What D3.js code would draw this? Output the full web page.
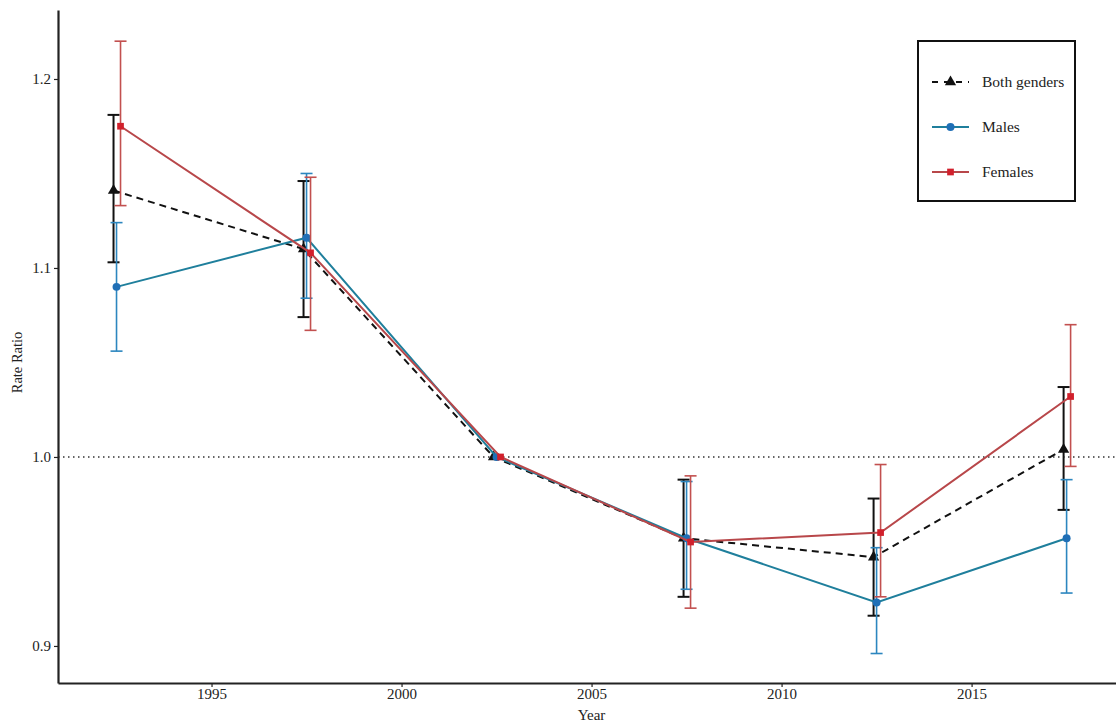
<!DOCTYPE html>
<html>
<head>
<meta charset="utf-8">
<script src="https://cdn.jsdelivr.net/npm/d3@7"></script>
<style>
  body { margin: 0; background: #fff; }
  svg { display: block; }
  text { font-family: "Liberation Serif", "DejaVu Serif", serif; fill: #222; }
</style>
</head>
<body>
<svg id="chart" width="1116" height="723"></svg>
<script>
// Period midpoints (years)
const years = [1992.5, 1997.5, 2002.5, 2007.5, 2012.5, 2017.5];

// Rate ratios relative to the 2000-2004 reference period
const bothRR   = [1.141, 1.110, 1.000, 0.957, 0.947, 1.004];
const bothLo   = [1.103, 1.074, 1.000, 0.926, 0.916, 0.972];
const bothHi   = [1.181, 1.146, 1.000, 0.988, 0.978, 1.037];

const maleRR   = [1.090, 1.116, 1.000, 0.957, 0.923, 0.957];
const maleLo   = [1.056, 1.084, 1.000, 0.930, 0.896, 0.928];
const maleHi   = [1.124, 1.150, 1.000, 0.987, 0.952, 0.988];

const femRR    = [1.175, 1.108, 1.000, 0.955, 0.960, 1.032];
const femLo    = [1.133, 1.067, 1.000, 0.920, 0.926, 0.995];
const femHi    = [1.220, 1.148, 1.000, 0.990, 0.996, 1.070];

const xTicks = [1995, 2000, 2005, 2010, 2015];
const yTicks = [0.9, 1.0, 1.1, 1.2];
const seriesNames = ["Both genders", "Males", "Females"];

const svg = d3.select("#chart");
const W = 1116, H = 723;
const margin = { left: 58, right: 0, top: 10, bottom: 40 };

const x = d3.scaleLinear().domain([1990.96, 2018.8]).range([margin.left, W - margin.right]);
const y = d3.scaleLinear().domain([0.8804, 1.2365]).range([H - margin.bottom, margin.top]);

const series = [
  { name: seriesNames[0], rr: bothRR, lo: bothLo, hi: bothHi, line: "#111", bar: "#111", mark: "#111",
    dash: "7,5", shape: d3.symbolTriangle, size: 55, dx: -3, barW: 2, cap: 12 },
  { name: seriesNames[1], rr: maleRR, lo: maleLo, hi: maleHi, line: "#1f7f9c", bar: "#2c86bf", mark: "#1f6fb6",
    dash: null, shape: d3.symbolCircle, size: 50, dx: 0, barW: 1.6, cap: 12 },
  { name: seriesNames[2], rr: femRR, lo: femLo, hi: femHi, line: "#b8474a", bar: "#c2504f", mark: "#d1202c",
    dash: null, shape: d3.symbolSquare, size: 45, dx: 4, barW: 1.6, cap: 12 }
];

// Reference line at RR = 1
svg.append("line")
  .attr("x1", margin.left).attr("x2", W - margin.right)
  .attr("y1", y(1)).attr("y2", y(1))
  .attr("stroke", "#333").attr("stroke-width", 1.4)
  .attr("stroke-dasharray", "1.5,3.5");

// Axes
const xAxis = svg.append("g")
  .attr("transform", `translate(0,${H - margin.bottom})`)
  .call(d3.axisBottom(x).tickValues(xTicks).tickFormat(d3.format("d")).tickSize(4).tickSizeOuter(0));
const yAxis = svg.append("g")
  .attr("transform", `translate(${margin.left},0)`)
  .call(d3.axisLeft(y).tickValues(yTicks).tickFormat(d3.format(".1f")).tickSize(4).tickSizeOuter(0));

[xAxis, yAxis].forEach(g => {
  g.select(".domain").attr("stroke", "#222").attr("stroke-width", 2.2);
  g.selectAll(".tick line").attr("stroke", "#222").attr("stroke-width", 1.2);
  g.selectAll(".tick text").attr("font-size", 15).attr("fill", "#333")
    .style("font-family", '"Liberation Serif", serif');
});
xAxis.selectAll(".tick text").attr("y", 4).attr("dy", "0.8em");

svg.append("text")
  .attr("x", x(2005)).attr("y", H - 3)
  .attr("text-anchor", "middle").attr("font-size", 15)
  .text("Year");

svg.append("text")
  .attr("transform", `translate(22,${y(1.05)}) rotate(-90)`)
  .attr("text-anchor", "middle").attr("font-size", 14.5)
  .text("Rate Ratio");

// Error bars, lines, markers per series
series.forEach(s => {
  const g = svg.append("g");
  const pts = years.map((yr, i) => ({ yr, rr: s.rr[i], lo: s.lo[i], hi: s.hi[i] }));
  const ci = pts.filter(p => p.hi > p.lo);

  g.selectAll(".bar").data(ci).join("line")
    .attr("x1", d => x(d.yr) + s.dx).attr("x2", d => x(d.yr) + s.dx)
    .attr("y1", d => y(d.lo)).attr("y2", d => y(d.hi))
    .attr("stroke", s.bar).attr("stroke-width", s.barW);
  ["lo", "hi"].forEach(k => {
    g.selectAll(".cap-" + k).data(ci).join("line")
      .attr("x1", d => x(d.yr) + s.dx - s.cap / 2).attr("x2", d => x(d.yr) + s.dx + s.cap / 2)
      .attr("y1", d => y(d[k])).attr("y2", d => y(d[k]))
      .attr("stroke", s.bar).attr("stroke-width", s.barW);
  });

  const line = d3.line().x(d => x(d.yr) + s.dx).y(d => y(d.rr));
  g.append("path").datum(pts)
    .attr("d", line).attr("fill", "none")
    .attr("stroke", s.line).attr("stroke-width", 2)
    .attr("stroke-dasharray", s.dash);

  g.selectAll(".pt").data(pts).join("path")
    .attr("transform", d => `translate(${x(d.yr) + s.dx},${y(d.rr)})`)
    .attr("d", d3.symbol().type(s.shape).size(s.size)())
    .attr("fill", s.mark);
});

// Legend
const lg = svg.append("g").attr("transform", "translate(918,41)");
lg.append("rect").attr("width", 157).attr("height", 160)
  .attr("fill", "#fff").attr("stroke", "#111").attr("stroke-width", 2);
series.forEach((s, i) => {
  const yy = 41 + i * 45;
  lg.append("line").attr("x1", 14).attr("x2", 51).attr("y1", yy).attr("y2", yy)
    .attr("stroke", s.line).attr("stroke-width", 2)
    .attr("stroke-dasharray", s.dash ? "6,6" : null);
  lg.append("path").attr("transform", `translate(32.5,${yy})`)
    .attr("d", d3.symbol().type(s.shape).size(s.size)())
    .attr("fill", s.mark);
  lg.append("text").attr("x", 64).attr("y", yy).attr("dy", "0.35em")
    .attr("font-size", 15.5).text(s.name);
});
</script>
</body>
</html>
